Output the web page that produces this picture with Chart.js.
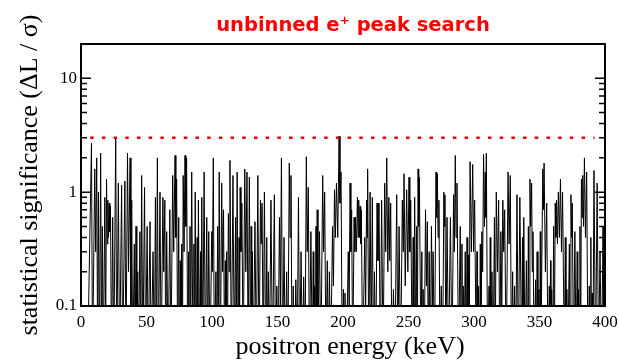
<!DOCTYPE html>
<html>
<head>
<meta charset="utf-8">
<script src="https://cdn.jsdelivr.net/npm/chart.js@4.4.1/dist/chart.umd.min.js"></script>
<style>
  html, body { margin: 0; padding: 0; background: #fff; }
</style>
</head>
<body>
<canvas id="chart" width="619" height="362"></canvas>
<script>
// ---------------------------------------------- datos
const titulo = "unbinned e\u207A peak search";
const tituloX = "positron energy (keV)";
const tituloY = "statistical significance (\u0394L / \u03C3)";

const xTicks = [0, 50, 100, 150, 200, 250, 300, 350, 400];
const yTickValues = [0.1, 1, 10];
const yTickLabels = ["0.1", "1", "10"];
const yMinorTicks = [0.2, 0.3, 0.4, 0.5, 0.6, 0.7, 0.8, 0.9, 2, 3, 4, 5, 6, 7, 8, 9];

// umbral punteado (3 sigma)
const umbralEnergia = [7, 392];
const umbralNivel = [3, 3];

// energia del positron (keV) y significancia
const energia = [
  5, 8, 8.8, 10.5, 11.2, 12, 12.7, 13.3, 14.1, 15,
  15.7, 16.3, 17, 18.2, 18.8, 19.5, 20, 20.5, 21, 21.5,
  22, 22.5, 23.3, 24.2, 25, 26.5, 27.3, 28.5, 29.5, 31,
  31.8, 33.5, 34.3, 35.5, 36.3, 37.5, 38.1, 38.7, 39.5, 40.7,
  41.3, 42, 42.6, 43.3, 43.8, 45, 45.6, 46.3, 47.2, 48.5,
  49.3, 50.5, 51.3, 52.7, 53.5, 55, 56, 56.8, 57.5, 58.3,
  59.1, 60.3, 61.2, 62.5, 63.2, 64, 64.7, 65.4, 66.5, 67.8,
  68.6, 70, 70.8, 71.8, 72.4, 73, 73.8, 74.6, 75.1, 75.8,
  76.3, 76.9, 77.4, 78, 78.7, 79.4, 80, 80.6, 81.5, 82.2,
  82.6, 83.2, 83.7, 84.5, 85.5, 86.2, 86.6, 87.2, 87.9, 88.7,
  89.1, 89.6, 90.6, 91.3, 91.6, 92.2, 92.9, 94, 94.9, 96,
  96.7, 97.5, 98.5, 99.8, 100.3, 101, 101.8, 103, 103.6, 104.3,
  104.8, 105.5, 106.4, 107.4, 108.1, 108.8, 109.6, 110.2, 110.6, 111.2,
  111.7, 112.5, 113.1, 113.7, 114.8, 116, 117, 118, 118.5, 119.2,
  120, 120.7, 121, 121.5, 122.1, 122.8, 123.8, 125, 125.8, 126.7,
  127.6, 128.5, 129.4, 129.9, 130.3, 130.8, 131.5, 132.8, 133.8, 135,
  135.9, 137, 137.6, 138.2, 139.1, 140, 141, 141.8, 142.3, 143,
  143.9, 145, 146.2, 147.6, 148.5, 149.5, 150.4, 151.5, 152.2, 153,
  153.9, 155, 155.9, 157, 157.9, 159, 159.6, 160.3, 161.1, 162,
  163, 164, 165, 166, 166.9, 168, 169, 170, 171, 172,
  172.7, 173.5, 174.4, 175.5, 176.6, 177.3, 177.7, 178.3, 178.9, 179.4,
  179.8, 180.3, 180.9, 182, 183.1, 184.5, 185.2, 186, 187, 188,
  188.8, 189.6, 190.6, 192, 192.7, 193.5, 194.2, 195, 196, 197,
  197.7, 198.5, 199.4, 200.3, 200.9, 201.5, 202.6, 204, 204.7, 205.4,
  206, 206.6, 207.4, 208.5, 209, 209.5, 210.2, 211, 211.5, 212,
  212.5, 213, 213.5, 214, 215, 216.6, 217.3, 218, 218.4, 218.8,
  219.7, 220.7, 221.5, 222.4, 223.2, 224, 225, 226, 226.7, 227.5,
  228.5, 229.5, 230.6, 231.8, 232.6, 233.4, 234.2, 235, 235.7, 236.4,
  237.4, 238.5, 239.6, 241, 241.9, 242.8, 244, 245.3, 246, 246.6,
  247.5, 248.6, 249.5, 250.4, 251, 251.7, 252.8, 253.6, 254, 254.7,
  255.6, 256.2, 256.7, 257.3, 257.8, 258.3, 259.5, 260.2, 260.6, 261.2,
  262, 263, 263.7, 264.4, 265.1, 265.8, 266.6, 267.5, 268.2, 268.8,
  269.8, 271, 271.5, 272, 272.6, 273.2, 274.1, 275, 276, 277,
  277.4, 277.8, 278.6, 279.4, 280.6, 282, 283.2, 284.4, 285, 285.7,
  286.3, 287, 288.2, 289.5, 290.2, 290.8, 291.2, 291.8, 292.4, 293.3,
  294.1, 294.7, 295.2, 296, 296.5, 297, 298, 299, 299.7, 300.5,
  301.7, 302.3, 302.7, 303.3, 304.2, 304.8, 305.3, 306, 306.6, 307.3,
  308, 308.6, 309, 309.4, 310.4, 311.5, 311.9, 312.4, 312.8, 313.7,
  314.6, 315.6, 316.2, 317, 317.9, 318.8, 319.7, 320.5, 321.2, 322,
  322.7, 323.4, 324.6, 326, 326.8, 327.7, 328.6, 329.5, 330.3, 331,
  331.9, 332.8, 333.9, 335, 336.4, 337, 337.4, 338, 339, 340,
  340.9, 341.5, 342, 342.7, 343.3, 344, 344.5, 345, 346, 347,
  347.6, 348.2, 348.8, 349.6, 350.1, 350.6, 351, 352.5, 353, 353.5,
  354.5, 355.5, 356.5, 357.5, 357.9, 358.4, 358.7, 359.3, 360.1, 360.8,
  361.3, 362, 362.5, 363, 363.7, 364.4, 365.2, 366, 366.8, 367.6,
  369, 369.7, 370.2, 370.9, 371.6, 372.8, 373.3, 374, 374.5, 375,
  376, 377, 378, 378.8, 379.2, 379.8, 380.4, 380.9, 381.4, 382,
  382.5, 383, 383.6, 384.3, 385.1, 386, 387, 388, 388.6, 389.2,
  389.6, 390.2, 390.8, 391.6, 392.8, 394, 395.1, 396.2, 397.4, 398.5,
  399.2
];
const significancia = [
  0.03, 2.7, 0.03, 1.6, 0.3, 2.0, 0.03, 1.0, 0.03, 2.2,
  0.03, 0.5, 0.03, 0.9, 0.05, 1.3, 0.35, 0.85, 0.4, 0.8,
  0.45, 0.75, 0.03, 0.6, 0.03, 3.0, 0.03, 1.2, 0.03, 1.15,
  0.03, 1.25, 0.03, 2.2, 0.2, 2.0, 0.03, 0.85, 0.03, 0.35,
  0.03, 0.5, 0.03, 0.2, 0.03, 0.45, 0.03, 1.4, 0.03, 1.1,
  0.03, 0.5, 0.03, 0.55, 0.03, 0.3, 0.03, 0.9, 0.03, 2.0,
  0.03, 1.0, 0.03, 0.9, 0.2, 0.85, 0.03, 0.45, 0.03, 0.7,
  0.03, 1.4, 0.3, 2.1, 0.4, 1.3, 0.03, 0.6, 0.03, 0.25,
  0.03, 0.35, 0.03, 1.4, 0.3, 2.1, 0.5, 2.0, 0.03, 0.3,
  0.03, 0.5, 0.03, 1.5, 0.03, 0.35, 0.03, 1.0, 0.03, 0.4,
  0.03, 0.85, 0.03, 0.3, 0.03, 0.9, 0.03, 1.5, 0.03, 0.6,
  0.03, 0.45, 0.03, 0.45, 0.2, 2.0, 0.03, 0.2, 0.03, 0.5,
  0.03, 1.5, 0.03, 1.2, 0.2, 0.7, 0.03, 0.25, 0.03, 0.3,
  0.03, 0.65, 0.2, 1.9, 0.03, 1.4, 0.03, 0.6, 0.03, 1.5,
  0.03, 0.4, 0.03, 1.1, 0.3, 0.8, 0.03, 1.6, 0.2, 1.5,
  0.03, 1.35, 0.03, 0.5, 0.03, 0.3, 0.03, 0.55, 0.03, 1.4,
  0.03, 0.85, 0.35, 0.8, 0.03, 1.0, 0.03, 0.4, 0.03, 0.2,
  0.03, 0.85, 0.03, 0.95, 0.03, 0.15, 0.03, 0.6, 0.1, 2.0,
  0.03, 0.4, 0.03, 0.2, 0.03, 1.8, 0.4, 1.4, 0.03, 0.15,
  0.03, 0.17, 0.03, 0.9, 0.03, 0.3, 0.03, 0.18, 0.03, 2.05,
  0.3, 1.1, 0.03, 0.45, 0.03, 0.3, 0.03, 0.15, 0.03, 0.5,
  0.03, 0.7, 0.03, 0.45, 0.03, 1.4, 0.3, 1.0, 0.03, 0.25,
  0.03, 0.2, 0.03, 0.5, 0.15, 1.05, 0.4, 1.2, 0.4, 3.1,
  0.8, 1.5, 0.03, 0.14, 0.03, 0.13, 0.03, 0.3, 0.1, 1.2,
  0.3, 0.7, 0.03, 0.6, 0.3, 0.6, 0.3, 0.9, 0.4, 0.85,
  0.4, 0.75, 0.35, 0.7, 0.03, 0.4, 0.1, 0.85, 0.4, 1.6,
  0.03, 1.0, 0.05, 0.9, 0.03, 0.2, 0.03, 0.8, 0.25, 0.8,
  0.03, 0.85, 0.03, 1.2, 0.3, 2.0, 0.2, 0.9, 0.25, 0.8,
  0.03, 0.14, 0.03, 0.95, 0.03, 0.5, 0.03, 0.85, 0.3, 1.45,
  0.15, 1.05, 0.2, 1.35, 0.3, 0.85, 0.03, 0.4, 0.03, 0.9,
  0.03, 0.5, 0.03, 1.6, 0.5, 1.35, 0.03, 0.3, 0.03, 0.14,
  0.03, 0.7, 0.15, 0.55, 0.03, 0.3, 0.03, 0.5, 0.1, 0.3,
  0.03, 1.5, 0.6, 1.45, 0.4, 0.85, 0.03, 0.15, 0.03, 1.0,
  0.5, 0.95, 0.03, 0.6, 0.03, 0.6, 0.03, 0.95, 0.3, 2.1,
  0.4, 1.2, 0.03, 0.5, 0.03, 0.35, 0.03, 0.15, 0.03, 0.3,
  0.03, 0.4, 0.03, 0.28, 0.1, 1.85, 0.3, 1.75, 0.3, 0.85,
  0.03, 0.3, 0.03, 0.15, 0.03, 0.35, 0.03, 0.45, 0.2, 2.15,
  0.5, 1.5, 0.6, 2.2, 0.03, 0.15, 0.03, 0.4, 0.03, 0.2,
  0.03, 0.6, 0.03, 1.0, 0.2, 0.85, 0.03, 0.45, 0.1, 0.85,
  0.3, 0.7, 0.03, 1.5, 0.35, 1.4, 0.03, 0.2, 0.03, 0.15,
  0.03, 0.95, 0.03, 0.9, 0.03, 0.4, 0.03, 0.6, 0.03, 0.25,
  0.03, 0.5, 0.03, 1.3, 0.5, 1.2, 0.2, 0.45, 0.03, 0.17,
  0.03, 0.3, 0.03, 0.14, 0.03, 0.45, 0.03, 1.6, 0.7, 1.8,
  0.2, 0.8, 0.03, 0.15, 0.03, 0.25, 0.03, 0.14, 0.03, 0.5,
  0.03, 0.8, 0.4, 0.85, 0.35, 1.0, 0.4, 1.3, 0.3, 1.0,
  0.03, 0.4, 0.03, 0.14, 0.03, 0.35, 0.03, 0.95, 0.4, 0.8,
  0.03, 0.45, 0.03, 0.3, 0.03, 0.14, 0.03, 0.5, 0.03, 1.3,
  0.6, 1.4, 0.5, 2.0, 0.4, 1.5, 0.03, 0.15, 0.03, 0.4,
  0.03, 0.13, 0.03, 1.55, 0.03, 1.2, 0.03, 0.3, 0.03, 0.5,
  0.03
];

const canvas = document.getElementById("chart");

//---------------------------------------------- marco, ticks internos y textos
const marco = {
    id: "marco",
    afterDraw(chart) {
        const { ctx, chartArea: a, scales: { y } } = chart;
        ctx.save();
        ctx.strokeStyle = "#000";
        ctx.lineWidth = 1.5;
        yTickValues.concat(yMinorTicks).forEach((v) => {
            const py = y.getPixelForValue(v);
            const largo = yTickValues.includes(v) ? 10 : 6;
            ctx.beginPath();
            ctx.moveTo(a.left, py);
            ctx.lineTo(a.left + largo, py);
            ctx.moveTo(a.right, py);
            ctx.lineTo(a.right - largo, py);
            ctx.stroke();
        });
        ctx.lineWidth = 2;
        ctx.strokeRect(a.left, a.top, a.right - a.left, a.bottom - a.top);

        ctx.textAlign = "center";
        ctx.textBaseline = "alphabetic";
        ctx.fillStyle = "#ff0000";
        ctx.font = "bold 19.5px 'DejaVu Sans'";
        ctx.fillText(titulo, 353, 31);
        ctx.fillStyle = "#000";
        ctx.font = "26px 'Liberation Serif'";
        ctx.fillText(tituloX, 350, 354);
        ctx.restore();
    }
};

const fuente = { family: "Liberation Serif", size: 17 };

new Chart(canvas, {
    type: "scatter",
    data: {
        datasets: [{
            data: umbralEnergia.map((x, i) => ({ x, y: umbralNivel[i] })),
            showLine: true,
            borderColor: "#e8000b",
            borderWidth: 2.5,
            borderDash: [3.5, 8.2],
            borderCapStyle: "butt",
            pointRadius: 0
        }, {
            data: energia.map((x, i) => ({ x, y: significancia[i] })),
            showLine: true,
            borderColor: "#000",
            borderWidth: 1,
            pointRadius: 0,
            tension: 0
        }]
    },
    options: {
        responsive: false,
        animation: false,
        devicePixelRatio: 1,
        layout: { padding: { top: 44, right: 14, left: 0, bottom: 0 } },
        plugins: { legend: { display: false }, tooltip: { enabled: false } },
        scales: {
            x: {
                type: "linear",
                min: 0,
                max: 400,
                grid: { display: false, drawTicks: false },
                border: { display: false },
                afterBuildTicks: (s) => { s.ticks = xTicks.map((value) => ({ value })); },
                ticks: { padding: 6, color: "#000", font: fuente, maxRotation: 0 },
                afterFit: (s) => {
                    s.height = 56;
                    s.paddingLeft = 0;
                    s.paddingRight = 0;
                }
            },
            y: {
                type: "logarithmic",
                min: 0.1,
                max: 20,
                grid: { display: false, drawTicks: false },
                border: { display: false },
                afterBuildTicks: (s) => { s.ticks = yTickValues.map((value) => ({ value })); },
                ticks: {
                    padding: 4,
                    color: "#000",
                    font: fuente,
                    autoSkip: false,
                    callback: (v, i) => yTickLabels[i]
                },
                title: {
                    display: true,
                    text: tituloY,
                    color: "#000",
                    font: { family: "Liberation Serif", size: 26 },
                    padding: { top: 15, bottom: 0 }
                },
                afterFit: (s) => { s.width = 81; }
            }
        }
    },
    plugins: [marco]
});
</script>
</body>
</html>
